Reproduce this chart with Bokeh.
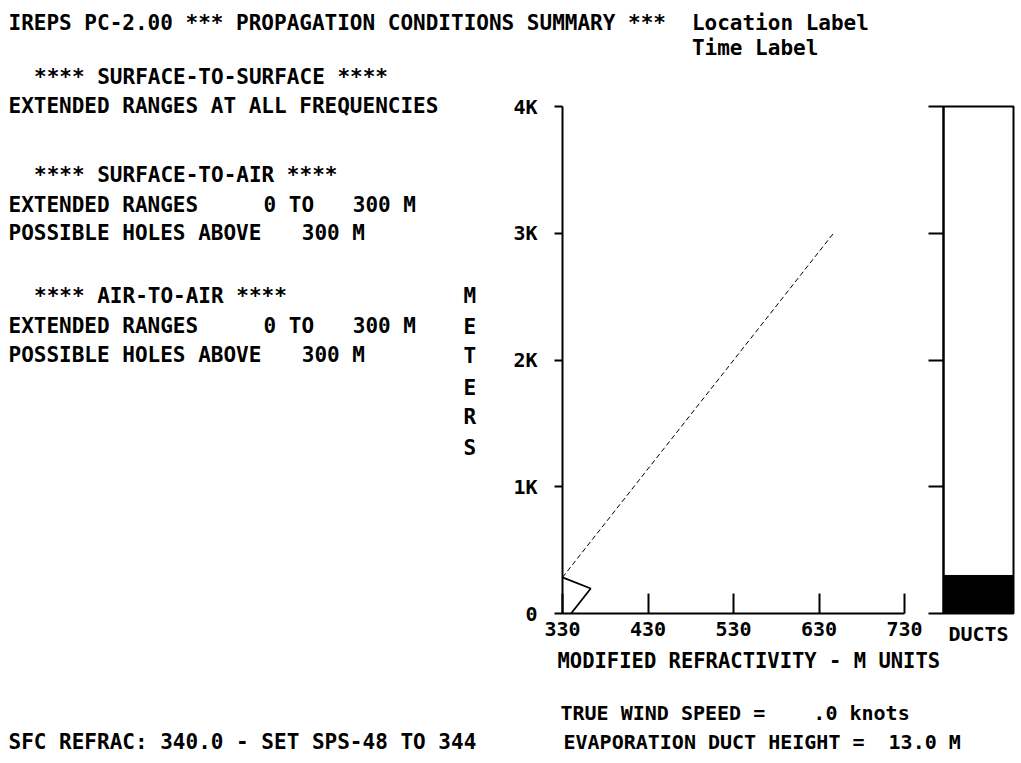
from bokeh.plotting import figure
from bokeh.models import Label, Range1d, FactorRange, FixedTicker, GridBox, CustomLabelingPolicy
from bokeh.layouts import row
from bokeh.embed import file_html
from bokeh.resources import INLINE

# ---------------- data ----------------
m_ticks = [330, 430, 530, 630, 730]
h_ticks = [0, 1000, 2000, 3000, 4000]
h_tick_labels = ["0", "1K", "2K", "3K", "4K"]

# modified refractivity profile (M units vs height in meters)
trap_m = [340, 363, 330]
trap_h = [0, 197, 285]
upper_m = [330, 647]
upper_h = [285, 3000]

# duct summary bar
duct_names = ["DUCTS"]
duct_bottom = [0]
duct_top = [300]

FONT = "DejaVu Sans Mono"

# ---------------- main chart ----------------
A_W, A_H = 928, 700
F_TOP, F_BOT = 106, 613

pA = figure(width=A_W, height=A_H, x_range=Range1d(330, 730), y_range=Range1d(0, 4000),
            output_backend="svg", toolbar_location=None, title=None,
            min_border_left=562, min_border_right=A_W - 904,
            min_border_top=F_TOP, min_border_bottom=A_H - F_BOT)
pA.outline_line_color = None
pA.grid.visible = False
pA.background_fill_color = None
pA.border_fill_color = None

pA.line(trap_m, trap_h, line_color="black", line_width=1.8)
pA.line(upper_m, upper_h, line_color="black", line_width=1.0, line_dash="5 3")

xa = pA.xaxis[0]
xa.ticker = FixedTicker(ticks=m_ticks)
xa.major_tick_in = 20
xa.major_tick_out = 0
xa.axis_line_width = 2
xa.major_tick_line_width = 2
xa.minor_tick_line_color = None
xa.major_label_text_font = FONT
xa.major_label_text_font_size = "20px"
xa.major_label_text_font_style = "bold"
xa.major_label_text_color = "black"
xa.major_label_standoff = 8
xa.axis_line_color = "black"
xa.major_tick_line_color = "black"

ya = pA.yaxis[0]
ya.ticker = FixedTicker(ticks=h_ticks)
ya.major_label_overrides = {t: l for t, l in zip(h_ticks, h_tick_labels)}
ya.major_tick_in = 0
ya.major_tick_out = 8
ya.axis_line_width = 2
ya.major_tick_line_width = 2
ya.minor_tick_line_color = None
ya.major_label_text_font = FONT
ya.major_label_text_font_size = "20px"
ya.major_label_text_font_style = "bold"
ya.major_label_text_color = "black"
ya.major_label_standoff = 17
ya.axis_line_color = "black"
ya.major_tick_line_color = "black"

# ---------------- ducts bar ----------------
B_W = 88
pB = figure(width=B_W, height=A_H, x_range=FactorRange(factors=duct_names, range_padding=0),
            y_range=Range1d(0, 4000), output_backend="svg", toolbar_location=None, title=None,
            min_border_left=15, min_border_right=B_W - 15 - 70,
            min_border_top=F_TOP, min_border_bottom=A_H - F_BOT)
pB.grid.visible = False
pB.background_fill_color = None
pB.border_fill_color = None
pB.outline_line_color = "black"
pB.outline_line_width = 2
pB.outline_line_alpha = 1
pB.vbar(x=duct_names, bottom=duct_bottom, top=duct_top, width=1, color="black")

yb = pB.yaxis[0]
yb.ticker = FixedTicker(ticks=h_ticks)
yb.major_tick_in = 0
yb.major_tick_out = 15
yb.major_tick_line_width = 2
yb.axis_line_width = 2
yb.minor_tick_line_color = None
yb.major_label_text_font_size = "0px"
yb.major_label_standoff = 0
yb.major_label_policy = CustomLabelingPolicy(code="return new Set()")
yb.axis_line_color = "black"
yb.major_tick_line_color = "black"

xb = pB.xaxis[0]
xb.axis_line_color = None
xb.major_tick_line_color = None
xb.minor_tick_line_color = None
xb.major_tick_out = 0
xb.major_tick_in = 0
xb.major_label_text_font = FONT
xb.major_label_text_font_size = "20px"
xb.major_label_text_font_style = "bold"
xb.major_label_text_color = "black"
xb.major_label_standoff = 8

chart = row(pA, pB, spacing=0)

# ---------------- full-page text layer ----------------
T_W, T_H = 1000, 760
pT = figure(width=T_W, height=T_H, x_range=Range1d(0, 1), y_range=Range1d(0, 1),
            output_backend="svg", toolbar_location=None, title=None,
            x_axis_type=None, y_axis_type=None,
            min_border_left=0, min_border_right=0, min_border_top=0, min_border_bottom=0)
pT.grid.visible = False
pT.outline_line_color = None
pT.background_fill_color = None
pT.border_fill_color = None


def put(px, py, text, size="21px"):
    pT.add_layout(Label(x=px, y=T_H - py, x_units="screen", y_units="screen",
                        text=text, text_font=FONT, text_font_size=size,
                        text_font_style="bold", text_color="black",
                        text_baseline="middle", text_align="left"))


P = 12.75  # character pitch of the 21px mono font
def col(c):
    return 8 + c * P

texts = [
    (col(0), 22, "IREPS PC-2.00 *** PROPAGATION CONDITIONS SUMMARY ***"),
    (col(53.6), 22, "Location Label"),
    (col(53.6), 47, "Time Label"),
    (col(2), 76, "**** SURFACE-TO-SURFACE ****"),
    (col(0), 105, "EXTENDED RANGES AT ALL FREQUENCIES"),
    (col(2), 174, "**** SURFACE-TO-AIR ****"),
    (col(0), 204, "EXTENDED RANGES"),
    (col(20), 204, "0 TO"),
    (col(27), 204, "300 M"),
    (col(0), 232, "POSSIBLE HOLES ABOVE"),
    (col(23), 232, "300 M"),
    (col(2), 295, "**** AIR-TO-AIR ****"),
    (col(0), 325, "EXTENDED RANGES"),
    (col(20), 325, "0 TO"),
    (col(27), 325, "300 M"),
    (col(0), 354, "POSSIBLE HOLES ABOVE"),
    (col(23), 354, "300 M"),
    (col(0), 741, "SFC REFRAC: 340.0 - SET SPS-48 TO 344"),
]
for px, py, t in texts:
    put(px, py, t)

for ch, py in zip("METERS", [295, 326, 355, 387, 416, 447]):
    put(463, py, ch)

put(557, 660, "MODIFIED REFRACTIVITY - M UNITS", size="20.5px")
put(560, 712, "TRUE WIND SPEED =", size="20px")
put(560 + 21 * 12.04, 712, ".0 knots", size="20px")
put(563, 741, "EVAPORATION DUCT HEIGHT =", size="20px")
put(563 + 27 * 12.04, 741, "13.0 M", size="20px")

layout = GridBox(children=[(chart, 0, 0), (pT, 0, 0)])

open("out.html", "w").write(file_html(layout, INLINE))
